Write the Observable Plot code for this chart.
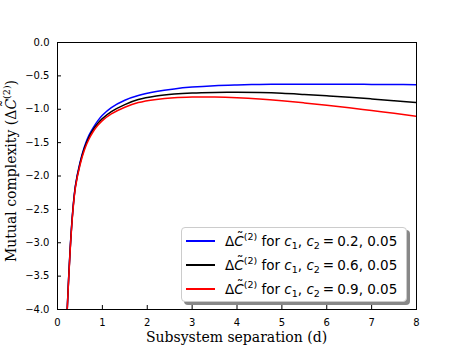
<!DOCTYPE html>
<html><head><meta charset="utf-8">
<script src="https://cdn.jsdelivr.net/npm/d3@7"></script>
<script src="https://cdn.jsdelivr.net/npm/@observablehq/plot@0.6"></script>
<style>
body{margin:0;background:#fff;}
#wrap{position:relative;width:463px;height:348px;font-family:"DejaVu Sans",sans-serif;color:#000;}
#wrap svg{position:absolute;left:0;top:0;}
.xlabel{position:absolute;left:57px;width:359px;top:329px;text-align:center;font-family:"DejaVu Serif",serif;font-size:14px;line-height:16px;white-space:nowrap;}
.ylabel{position:absolute;left:-89px;top:162px;width:200px;text-align:center;transform:rotate(-90deg);font-family:"DejaVu Serif",serif;font-size:14px;line-height:18px;white-space:nowrap;}
.ylabel sup{font-size:9.5px;vertical-align:6px;line-height:0;}
.ct{position:relative;display:inline-block;}
.ct::after{content:"\02DC";position:absolute;left:0.18em;top:-0.32em;font-style:normal;}
.legend{position:absolute;left:181px;top:227px;width:226px;height:75px;background:#fff;border:1px solid #ccc;border-radius:4px;box-shadow:3px 3px 0 #888;box-sizing:border-box;}
.row{position:absolute;left:0;height:20px;width:100%;}
.row .sw{position:absolute;left:4px;top:9px;width:29px;height:0;border-top:2px solid;}
.row .tx{position:absolute;left:43px;top:0;font-size:13.5px;line-height:20px;white-space:nowrap;}
.tx sup{font-size:9.5px;vertical-align:6px;line-height:0;}
.tx sub{font-size:9.5px;vertical-align:-3px;line-height:0;}
.eq{margin:0 3px;}
</style></head><body><div id="wrap"></div>
<script>
const dValues = [0.21,0.25,0.29,0.34,0.4,0.5,0.6,0.7,0.8,0.9,1.0,1.2,1.5,1.8,2.2,2.6,3.0,3.5,4.0,4.5,5.0,5.5,6.0,6.5,7.0,7.5,8.0];
const blueValues = [-4.1,-3.5,-3.0,-2.52,-2.14,-1.80,-1.56,-1.39,-1.27,-1.17,-1.09,-0.975,-0.865,-0.795,-0.735,-0.695,-0.668,-0.647,-0.636,-0.629,-0.625,-0.624,-0.625,-0.626,-0.628,-0.63,-0.632];
const blackValues = [-4.1,-3.51,-3.01,-2.53,-2.15,-1.82,-1.58,-1.42,-1.30,-1.21,-1.14,-1.035,-0.93,-0.855,-0.802,-0.772,-0.756,-0.748,-0.746,-0.75,-0.76,-0.778,-0.798,-0.82,-0.845,-0.872,-0.90];
const redValues = [-4.1,-3.53,-3.03,-2.55,-2.17,-1.84,-1.61,-1.45,-1.33,-1.24,-1.17,-1.07,-0.97,-0.9,-0.853,-0.827,-0.817,-0.816,-0.826,-0.845,-0.872,-0.905,-0.94,-0.978,-1.02,-1.06,-1.105];
const seriesNames = ["0.2, 0.05","0.6, 0.05","0.9, 0.05"];
const xTicks = [0,1,2,3,4,5,6,7,8];
const yTicks = [0,-0.5,-1,-1.5,-2,-2.5,-3,-3.5,-4];

const seriesColors = ["#0000ff","#000000","#ff0000"];
const allValues = [blueValues, blackValues, redValues];
const table = allValues.flatMap((vals, s) => dValues.map((d, i) => ({series: seriesNames[s], d, v: vals[i]})));

const W = 463, H = 348, mL = 57, mR = 47, mT = 42, mB = 39;
const chart = Plot.plot({
  width: W, height: H,
  marginLeft: mL, marginRight: mR, marginTop: mT, marginBottom: mB,
  style: {fontFamily: "DejaVu Sans", fontSize: "10px", background: "#fff", color: "#000"},
  x: {domain: [0, 8]},
  y: {domain: [-4, 0]},
  color: {domain: seriesNames, range: seriesColors},
  marks: [
    Plot.line(table, {x: "d", y: "v", stroke: "series", z: "series", strokeWidth: 1.5, curve: "catmull-rom", clip: true}),
    Plot.ruleX(xTicks, {x: d => d, insetTop: (H - mT - mB) - 4, stroke: "#000"}),
    Plot.ruleY(yTicks, {y: d => d, insetRight: (W - mL - mR) - 4, stroke: "#000"}),
    Plot.axisX({ticks: xTicks, tickSize: 0, tickPadding: 9, label: null, tickFormat: d3.format("d"), fontSize: 10}),
    Plot.axisY({ticks: yTicks, tickSize: 0, tickPadding: 8, label: null, tickFormat: d3.format(".1f"), fontSize: 10}),
    Plot.frame({stroke: "#000"})
  ]
});
const wrap = document.getElementById("wrap");
wrap.appendChild(chart);

const tildeC = `<span class="ct"><i>C</i></span>`;

const xl = document.createElement("div");
xl.className = "xlabel";
xl.textContent = "Subsystem separation (d)";
wrap.appendChild(xl);

const yl = document.createElement("div");
yl.className = "ylabel";
yl.innerHTML = `Mutual complexity (Δ${tildeC}<sup>(2)</sup>)`;
wrap.appendChild(yl);

const lg = document.createElement("div");
lg.className = "legend";
seriesNames.forEach((name, i) => {
  const r = document.createElement("div");
  r.className = "row";
  r.style.top = (3 + i * 24) + "px";
  r.innerHTML = `<div class="sw" style="border-color:${seriesColors[i]}"></div><div class="tx">Δ${tildeC}<sup>(2)</sup> for <i>c</i><sub>1</sub>,<i> c</i><sub>2</sub><span class="eq">=</span>${name}</div>`;
  lg.appendChild(r);
});
wrap.appendChild(lg);
</script></body></html>
